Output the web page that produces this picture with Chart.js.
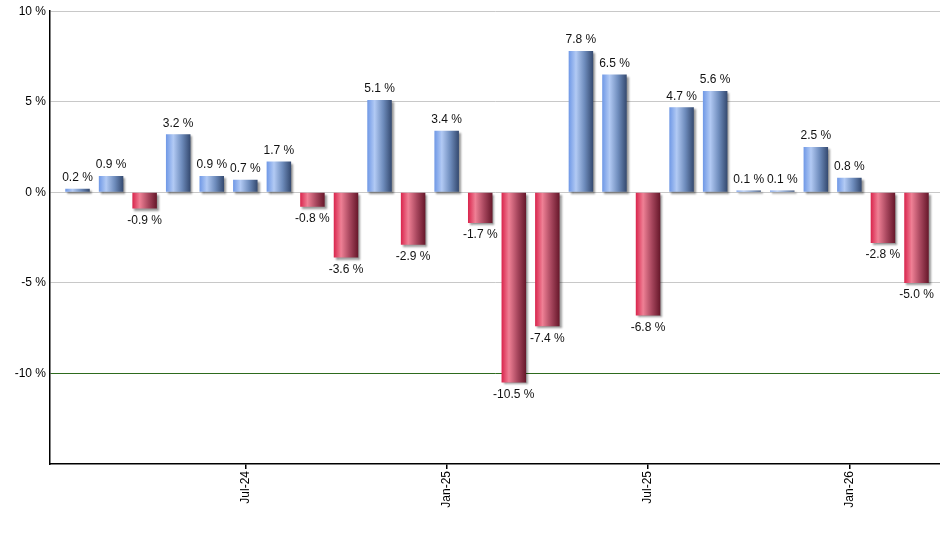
<!DOCTYPE html>
<html>
<head>
<meta charset="utf-8">
<script src="https://cdn.jsdelivr.net/npm/chart.js@4/dist/chart.umd.min.js"></script>
<style>
  html, body { margin: 0; padding: 0; background: #fff; }
  #wrap { width: 940px; height: 550px; }
</style>
</head>
<body>
<div id="wrap"><canvas id="chart" width="940" height="550"></canvas></div>
<script>
var months = ['Feb-24','Mar-24','Apr-24','May-24','Jun-24','Jul-24','Aug-24','Sep-24','Oct-24','Nov-24','Dec-24',
    'Jan-25','Feb-25','Mar-25','Apr-25','May-25','Jun-25','Jul-25','Aug-25','Sep-25','Oct-25','Nov-25','Dec-25',
    'Jan-26','Feb-26','Mar-26'];
var returns = [0.2, 0.9, -0.9, 3.2, 0.9, 0.7, 1.7, -0.8, -3.6, 5.1, -2.9, 3.4, -1.7, -10.5, -7.4, 7.8, 6.5,
    -6.8, 4.7, 5.6, 0.1, 0.1, 2.5, 0.8, -2.8, -5.0];
var yTicks = [10, 5, 0, -5, -10];

var blueStops = ['#6f98e6', '#b2caf4', '#6e8cbc', '#34496f'];
var redStops = ['#d9244c', '#ef8095', '#a8475e', '#66172a'];
var font = "'Liberation Sans', Arial, sans-serif";
var barPct = 0.73;

// gradient fill per bar, shadow under the bars, then value labels on top
var barDecor = {
    id: 'barDecor',
    beforeDatasetsDraw(chart) {
        var ctx = chart.ctx;
        chart.getDatasetMeta(0).data.forEach(function (el, i) {
            var stops = returns[i] >= 0 ? blueStops : redStops;
            var g = ctx.createLinearGradient(el.x - el.width / 2, 0, el.x + el.width / 2, 0);
            g.addColorStop(0, stops[0]);
            g.addColorStop(0.3, stops[1]);
            g.addColorStop(0.65, stops[2]);
            g.addColorStop(1, stops[3]);
            el.options.backgroundColor = g;
        });
        ctx.save();
        ctx.shadowColor = 'rgba(0,0,0,0.4)';
        ctx.shadowOffsetX = 2;
        ctx.shadowOffsetY = 2;
        ctx.shadowBlur = 2;
    },
    afterDatasetsDraw(chart) {
        var ctx = chart.ctx;
        ctx.restore();
        ctx.save();
        ctx.font = '12px ' + font;
        ctx.fillStyle = '#111';
        ctx.textAlign = 'center';
        chart.getDatasetMeta(0).data.forEach(function (el, i) {
            var v = returns[i];
            var txt = v.toFixed(1) + ' %';
            if (v >= 0) {
                ctx.textBaseline = 'bottom';
                ctx.fillText(txt, el.x, el.y - 5);
            } else {
                ctx.textBaseline = 'top';
                ctx.fillText(txt, el.x, el.y + 6);
            }
        });
        ctx.restore();
    }
};

var chart = new Chart(document.getElementById('chart'), {
    type: 'bar',
    data: {
        datasets: [{
            data: returns.map((v, i) => ({ x: i, y: v })),
            backgroundColor: function (c) { return returns[c.dataIndex] >= 0 ? blueStops[0] : redStops[0]; },
            borderWidth: 0,
            barPercentage: barPct,
            categoryPercentage: 1
        }]
    },
    plugins: [barDecor],
    options: {
        responsive: false,
        animation: false,
        layout: { padding: { top: 9, right: 0, left: 0, bottom: 0 } },
        plugins: { legend: { display: false }, tooltip: { enabled: false } },
        scales: {
            x: {
                type: 'linear',
                offset: false,
                min: -0.82,
                max: 25.7,
                afterBuildTicks: function (s) {
                    s.ticks = [];
                    months.forEach(function (m, i) {
                        if (m.startsWith('Jul') || m.startsWith('Jan')) s.ticks.push({ value: i });
                    });
                },
                afterFit: function (s) { s.height = 86; },
                border: { color: '#000', width: 1.5 },
                grid: { offset: false, drawOnChartArea: false, drawTicks: true, tickLength: 5, color: '#000', lineWidth: 1.5 },
                ticks: {
                    minRotation: 90,
                    maxRotation: 90,
                    padding: 2,
                    color: '#000',
                    font: { family: font, size: 12 },
                    callback: function (v) { return months[v]; }
                }
            },
            y: {
                min: -15,
                max: 10,
                afterBuildTicks: function (s) {
                    s.ticks = yTicks.map(v => ({ value: v }));
                },
                afterFit: function (s) { s.width = 50; },
                border: { color: '#000', width: 1.5 },
                grid: {
                    drawTicks: false,
                    color: function (c) {
                        return c.tick && c.tick.value === -10 ? '#2e6b1e' : '#c8c8c8';
                    },
                    lineWidth: 1
                },
                ticks: {
                    padding: 4,
                    color: '#000',
                    font: { family: font, size: 12 },
                    callback: function (v) { return v + ' %'; }
                }
            }
        }
    }
});
</script>
</body>
</html>
